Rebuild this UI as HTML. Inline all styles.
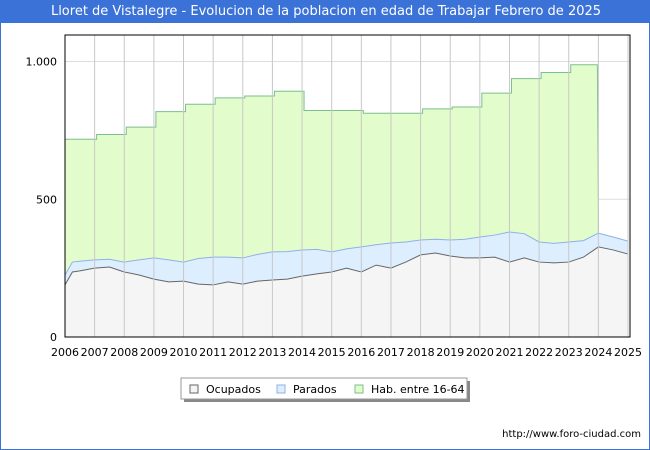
<!DOCTYPE html>
<html><head><meta charset="utf-8"><style>
body{margin:0;background:#fff;font-family:"DejaVu Sans","Liberation Sans",sans-serif}
#wrap{position:relative;width:650px;height:450px;box-sizing:border-box;border:1px solid #3a72d8;border-top:none}
#title{position:absolute;left:0;top:0;width:650px;height:23px;background:#3a72d8;color:#fff;font-size:13px;text-align:center;line-height:23px}
</style></head><body>
<div id="wrap">
<div id="title">Lloret de Vistalegre - Evolucion de la poblacion en edad de Trabajar Febrero de 2025</div>
<svg id="svg" width="650" height="450" style="position:absolute;left:-1px;top:0"></svg>
</div>
<script>
const years=[2006,2007,2008,2009,2010,2011,2012,2013,2014,2015,2016,2017,2018,2019,2020,2021,2022,2023,2024,2025];
const habValues=[718,735,762,818,845,868,875,892,822,822,812,812,828,835,885,938,960,988];
const occTimes=[2006,2006.25,2006.5,2007,2007.5,2008,2008.5,2009,2009.5,2010,2010.5,2011,2011.5,2012,2012.5,2013,2013.5,2014,2014.5,2015,2015.5,2016,2016.5,2017,2017.5,2018,2018.5,2019,2019.5,2020,2020.5,2021,2021.5,2022,2022.5,2023,2023.5,2024,2024.5,2025];
const ocupados=[189,236,240,250,254,236,225,210,200,203,192,189,200,192,203,207,210,221,229,236,250,236,261,250,272,298,305,294,287,287,290,272,287,272,269,272,290,327,316,301];
const totalTop=[225,272,275,280,282,272,280,287,280,272,285,290,290,287,300,309,310,316,318,309,320,327,335,341,345,352,355,352,355,363,370,381,375,345,340,345,350,377,363,348];
const yTicks=[0,500,1000];
const yTickLabels=["0","500","1.000"];
const NS="http://www.w3.org/2000/svg";
const svg=document.getElementById('svg');
const L=65,R=628,T=35,B=337;
const xs=v=>L+(v-2006)/19*(R-L);
const ys=v=>B-v*0.2755;
function el(t,a,p){const e=document.createElementNS(NS,t);for(const k in a)e.setAttribute(k,a[k]);(p||svg).appendChild(e);return e;}
el('rect',{x:L,y:T,width:R-L+2,height:B-T,fill:'#fff'});
yTicks.forEach((v,i)=>{const g=el('line',{x1:L,x2:R+2,y1:ys(v),y2:ys(v),stroke:'#ddd'});


const t=el('text',{x:L-8,y:ys(v)+4,'text-anchor':'end','font-size':11,fill:'#000'});t.textContent=yTickLabels[i];

});
let hp=`M${xs(2006)},${ys(0)}`;
habValues.forEach((v,i)=>{hp+=` L${xs(years[i])+(i?2:0)},${ys(i?habValues[i-1]:v)} L${xs(years[i])+(i?2:0)},${ys(v)}`;});
hp+=` L${xs(2024)-1},${ys(habValues[17])} L${xs(2024)},${ys(480)} L${xs(2024)},${ys(0)} Z`;
const ha=el('path',{d:hp,fill:'#e3fccb',stroke:'#7bbf8e','stroke-width':1});


const topPts=occTimes.map((t,i)=>`${xs(t)},${ys(totalTop[i])}`).join(' L');
const botPts=occTimes.map((t,i)=>`${xs(t)},${ys(ocupados[i])}`).reverse().join(' L');
const pa=el('path',{d:`M${topPts} L${botPts} Z`,fill:'#ddeeff'});


const pl=el('path',{d:`M${topPts}`,fill:'none',stroke:'#8fb0e8'});


const occPts=occTimes.map((t,i)=>`${xs(t)},${ys(ocupados[i])}`).join(' L');
const oa=el('path',{d:`M${xs(2006)},${ys(0)} L${occPts} L${xs(2025)},${ys(0)} Z`,fill:'#f5f5f5'});


const ol=el('path',{d:`M${occPts}`,fill:'none',stroke:'#666'});


years.forEach(yr=>{const g=el('line',{x1:xs(yr),x2:xs(yr),y1:T,y2:B,stroke:'#c8c8c8'});


const t=el('text',{x:xs(yr),y:356,'text-anchor':'middle','font-size':11,fill:'#000'});t.textContent=yr;

});
const fr=el('rect',{x:L,y:T,width:R-L+2,height:B-T,fill:'none',stroke:'#000'});


const lg=el('g',{});


el('rect',{x:184,y:381,width:286,height:21,fill:'#888'},lg);
el('rect',{x:181,y:378,width:286,height:21,fill:'#fff',stroke:'#999'},lg);
[['Ocupados','#f5f5f5','#666',190],['Parados','#ddeeff','#8fb0e8',277],['Hab. entre 16-64','#e3fccb','#7bbf8e',355]].forEach(d=>{
const g=el('g',{},lg);


el('rect',{x:d[3],y:385,width:8,height:8,fill:d[1],stroke:d[2]},g);
const t=el('text',{x:d[3]+16,y:393,'font-size':11,fill:'#000'},g);t.textContent=d[0];});
const u=el('text',{x:641,y:437,'text-anchor':'end','font-size':10,fill:'#000'});u.textContent='http://www.foro-ciudad.com';


</script>
</body></html>
